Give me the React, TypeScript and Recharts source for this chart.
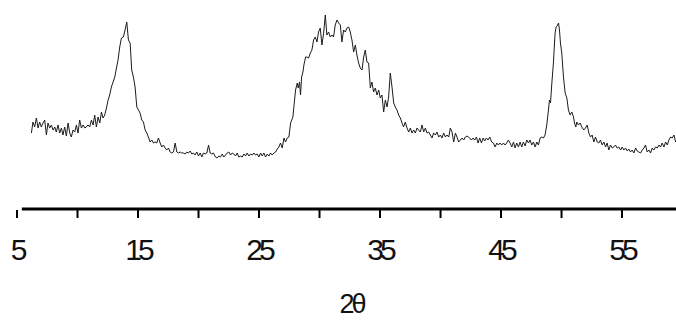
import { LineChart, Line, XAxis, YAxis, ReferenceLine } from 'recharts';

// diffraction scan (2θ in degrees, intensity in a.u.)
const lowAngleTheta = [
  6.19, 6.32, 6.46, 6.6, 6.74, 6.87, 7.01, 7.15, 7.29, 7.43, 7.56, 7.7, 7.84, 7.98, 8.12, 8.25, 8.39, 8.53,
  8.67, 8.8, 8.94, 9.08, 9.22, 9.36, 9.49, 9.63, 9.77, 9.91, 10.04, 10.18, 10.32, 10.46, 10.6, 10.73, 10.87,
  11.01, 11.15, 11.29, 11.42, 11.56, 11.7, 11.84, 11.98, 12.11, 12.25, 12.39, 12.53, 12.66, 12.8, 12.94,
  13.08, 13.22, 13.35, 13.49, 13.63,
];
const lowAngleCounts = [
  76, 87, 82, 91, 81, 87, 82, 86, 89, 74, 86, 81, 84, 79, 82, 77, 84, 76, 81, 74, 82, 73, 86, 76, 72, 79,
  77, 84, 76, 89, 81, 84, 81, 82, 84, 82, 89, 84, 94, 82, 92, 86, 97, 91, 94, 101, 109, 114, 122, 127, 132,
  141, 149, 162, 171,
];

const peak14Theta = [
  13.79, 13.93, 14.07, 14.21, 14.35, 14.48, 14.62, 14.76, 14.9, 15.04, 15.17, 15.31, 15.45, 15.59, 15.73,
  15.86, 16.0, 16.14, 16.28, 16.41, 16.55, 16.69, 16.83, 16.96, 17.1, 17.24, 17.38, 17.52, 17.65, 17.79,
  17.93, 18.07, 18.21, 18.34, 18.48, 18.62, 18.76, 18.9, 19.03, 19.17, 19.31, 19.45, 19.58, 19.72, 19.86,
  20.0, 20.14, 20.27, 20.41, 20.55, 20.69, 20.83, 20.96, 21.1, 21.24,
];
const peak14Counts = [
  172, 179, 187, 169, 166, 139, 132, 122, 102, 99, 96, 89, 87, 79, 76, 72, 67, 69, 66, 67, 66, 71, 66, 62,
  64, 61, 59, 61, 57, 56, 57, 66, 57, 56, 57, 56, 56, 55, 57, 56, 58, 55, 56, 54, 57, 53, 56, 52, 56, 55,
  56, 64, 56, 55, 56,
];

const valleyTheta = [
  21.4, 21.54, 21.68, 21.82, 21.96, 22.09, 22.23, 22.37, 22.51, 22.65, 22.78, 22.92, 23.06, 23.2, 23.33,
  23.47, 23.61, 23.75, 23.89, 24.02, 24.16, 24.3, 24.44, 24.57, 24.71, 24.85, 24.99, 25.13, 25.26, 25.4,
  25.54, 25.68, 25.82, 25.95, 26.09, 26.23, 26.37, 26.51, 26.64, 26.78, 26.92, 27.06, 27.19, 27.33, 27.47,
  27.61, 27.8, 27.88, 28.02, 28.16, 28.24, 28.35, 28.43, 28.52, 28.63, 28.71, 28.85,
];
const valleyCounts = [
  52, 51, 53, 52, 55, 52, 54, 56, 57, 54, 56, 55, 53, 56, 52, 53, 52, 55, 53, 56, 53, 55, 54, 56, 54, 55,
  52, 56, 53, 56, 52, 55, 53, 56, 54, 56, 57, 60, 62, 66, 61, 71, 67, 71, 72, 86, 92, 102, 119, 126, 121,
  127, 114, 132, 137, 144, 152,
];

const humpTheta = [
  28.96, 29.1, 29.24, 29.37, 29.51, 29.65, 29.79, 29.92, 30.06, 30.2, 30.34, 30.48, 30.61, 30.75, 30.89,
  31.03, 31.16, 31.3, 31.44, 31.58, 31.72, 31.85, 31.99, 32.13, 32.27, 32.41, 32.54, 32.68, 32.82, 32.96,
  33.09, 33.23, 33.37, 33.51, 33.65, 33.78, 33.92, 34.06, 34.2, 34.33, 34.47, 34.61, 34.75, 34.89, 35.02,
  35.16, 35.3, 35.44, 35.58, 35.71, 35.85, 35.99, 36.13, 36.26, 36.4, 36.54, 36.68, 36.82, 36.95, 37.09,
  37.23, 37.37, 37.51, 37.64, 37.78, 37.92, 38.06, 38.19, 38.33, 38.47, 38.61, 38.75, 38.88, 39.02, 39.16,
  39.3, 39.43, 39.57, 39.71, 39.85, 39.99, 40.12, 40.26, 40.4, 40.54, 40.68, 40.81, 40.95, 41.09, 41.23,
  41.36, 41.5, 41.64, 41.78, 41.92, 42.05, 42.19,
];
const humpCounts = [
  152, 151, 156, 159, 169, 172, 167, 177, 181, 164, 176, 194, 174, 177, 172, 174, 172, 184, 189, 186, 184,
  167, 179, 177, 181, 182, 177, 169, 157, 164, 154, 146, 141, 139, 152, 159, 147, 146, 121, 127, 117, 121,
  114, 119, 111, 114, 97, 109, 102, 112, 136, 122, 106, 102, 99, 94, 91, 86, 82, 87, 81, 77, 81, 76, 79, 76,
  81, 79, 77, 84, 77, 81, 76, 77, 74, 71, 76, 74, 77, 72, 74, 71, 76, 72, 74, 72, 81, 77, 67, 76, 72, 67,
  69, 71, 69, 72, 73,
];

const plateauTheta = [42.41, 42.55, 42.69, 42.83, 42.97, 43.1, 43.24, 43.38, 43.52, 43.65, 43.79, 43.93, 44.07];
const plateauCounts = [71, 69, 71, 69, 72, 66, 71, 66, 71, 68, 71, 69, 72];

const peak50Theta = [
  44.23, 44.37, 44.51, 44.65, 44.78, 44.92, 45.06, 45.2, 45.34, 45.47, 45.61, 45.75, 45.89, 46.03, 46.16,
  46.3, 46.44, 46.58, 46.71, 46.85, 46.99, 47.13, 47.27, 47.4, 47.54, 47.68, 47.82, 47.96, 48.09, 48.23,
  48.37, 48.51, 48.64, 48.78, 48.92, 49.0, 49.09, 49.2, 49.33, 49.42, 49.47, 49.55, 49.64, 49.75, 49.83,
  49.91, 50.02, 50.16, 50.3, 50.44, 50.57, 50.71, 50.85, 50.99, 51.07, 51.18, 51.26, 51.4, 51.54, 51.68,
];
const peak50Counts = [
  67, 66, 62, 66, 64, 66, 64, 66, 64, 66, 69, 66, 62, 67, 61, 66, 62, 67, 62, 67, 63, 69, 66, 69, 64, 67,
  62, 67, 64, 71, 72, 71, 74, 84, 99, 109, 106, 126, 146, 166, 176, 182, 183, 186, 179, 166, 156, 132, 116,
  111, 99, 94, 97, 92, 86, 82, 87, 84, 86, 82,
];

const highAngleTheta = [
  51.84, 51.98, 52.12, 52.26, 52.39, 52.53, 52.67, 52.81, 52.95, 53.08, 53.22, 53.36, 53.5, 53.64, 53.77,
  53.91, 54.05, 54.19, 54.32, 54.46, 54.6, 54.74, 54.88, 55.01, 55.15, 55.29, 55.43, 55.56, 55.7, 55.84,
  55.98, 56.12, 56.25, 56.39, 56.53, 56.67, 56.81, 56.94, 57.08, 57.22, 57.36, 57.49, 57.63, 57.77, 57.91,
  58.05, 58.18, 58.32, 58.46, 58.6, 58.74, 58.87, 59.01, 59.15, 59.29, 59.43,
];
const highAngleCounts = [
  79, 81, 84, 76, 72, 74, 67, 72, 67, 66, 69, 64, 67, 62, 66, 59, 64, 61, 62, 64, 61, 62, 59, 62, 59, 61,
  58, 60, 57, 59, 56, 61, 58, 57, 56, 59, 61, 64, 57, 59, 56, 61, 59, 62, 61, 64, 62, 66, 62, 67, 64, 69,
  72, 71, 74, 67,
];

const xTicks = [5, 10, 15, 20, 25, 30, 35, 40, 45, 50, 55];

const segments: [number[], number[]][] = [
  [lowAngleTheta, lowAngleCounts],
  [peak14Theta, peak14Counts],
  [valleyTheta, valleyCounts],
  [humpTheta, humpCounts],
  [plateauTheta, plateauCounts],
  [peak50Theta, peak50Counts],
  [highAngleTheta, highAngleCounts],
];

const data = segments.flatMap(([theta, counts]) =>
  theta.map((t, i) => ({ theta: t, counts: counts[i] }))
);

const FONT = '"Liberation Sans", Arial, sans-serif';

function AxisTick(props: any) {
  const { x, y, payload } = props;
  const v = payload.value as number;
  // only 5, 15, 25 ... carry a label
  const labelled = v % 10 === 5;
  return (
    <g>
      <line x1={x} y1={y + 1} x2={x} y2={y + 9} stroke="#000" strokeWidth={2} />
      {labelled && (
        <text x={x} y={y + 51} textAnchor="middle" fontSize={30} letterSpacing={-4} fontFamily={FONT} fill="#111">
          {v}
        </text>
      )}
    </g>
  );
}

function AxisTitle(props: any) {
  const vb = props.viewBox || { x: 0, y: 0, width: 0, height: 0 };
  return (
    <text
      x={vb.x + vb.width / 2 + 5}
      y={vb.y + vb.height - 7}
      textAnchor="middle"
      fontSize={27}
      letterSpacing={-3}
      fontFamily={FONT}
      fill="#111"
    >
      2θ
    </text>
  );
}

export default function App() {
  return (
    <div style={{ position: 'absolute', left: 0, top: 0, background: '#fff' }}>
      <LineChart width={676} height={320} data={data} margin={{ top: 10, right: 0, bottom: 0, left: 17 }}>
        <XAxis
          dataKey="theta"
          type="number"
          domain={[5, 59.46]}
          ticks={xTicks}
          interval={0}
          allowDataOverflow
          axisLine={false}
          tickLine={false}
          tickSize={0}
          tickMargin={0}
          height={111}
          tick={<AxisTick />}
          label={{ content: <AxisTitle /> }}
        />
        <YAxis hide domain={[0, 199]} allowDataOverflow />
        <ReferenceLine
          segment={[{ x: 5.4, y: 0 }, { x: 59.46, y: 0 }]}
          stroke="#000"
          strokeWidth={3}
          ifOverflow="visible"
        />
        <Line
          type="linear"
          dataKey="counts"
          stroke="#1c1c1c"
          strokeWidth={1}
          dot={false}
          isAnimationActive={false}
        />
      </LineChart>
    </div>
  );
}
